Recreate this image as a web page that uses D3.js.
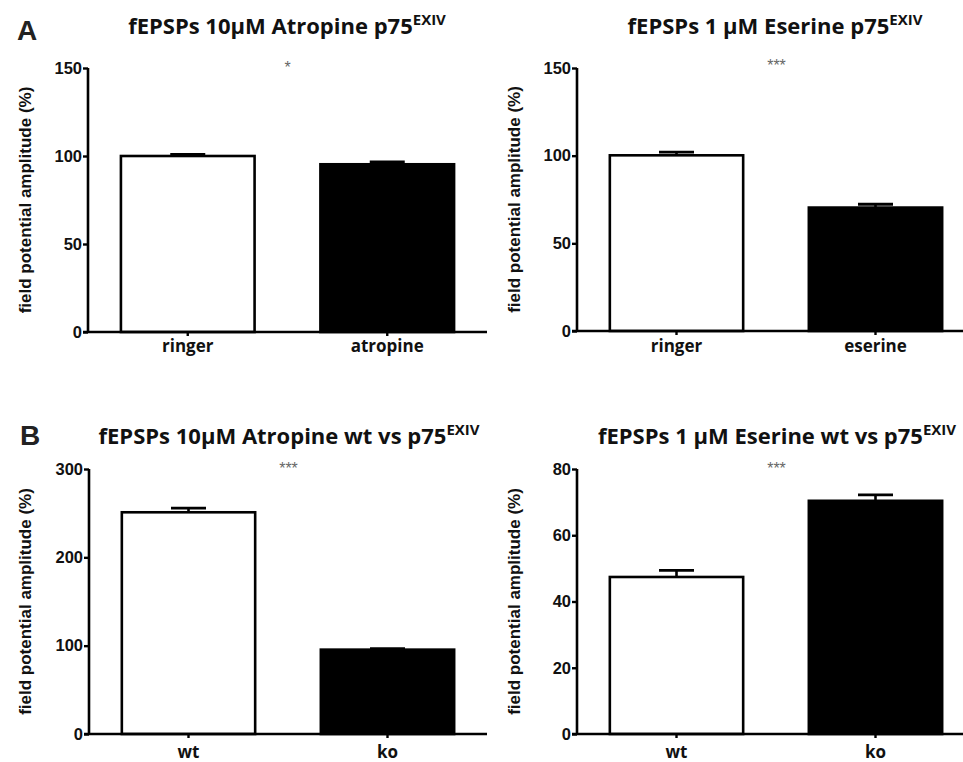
<!DOCTYPE html>
<html>
<head>
<meta charset="utf-8">
<script src="https://cdn.jsdelivr.net/npm/d3@7"></script>
<style>
  html, body { margin: 0; padding: 0; background: #fff; }
  svg { display: block; }
</style>
</head>
<body>
<svg id="chart" width="963" height="762"></svg>
<script>
// ---------------- DATA ----------------
const titlesMain = ["fEPSPs 10µM Atropine p75", "fEPSPs 1 µM Eserine p75", "fEPSPs 10µM Atropine wt vs p75", "fEPSPs 1 µM Eserine wt vs p75"];
const titleSup = "EXIV";
const panelLetters = ["A", "B"];
const yAxisLabel = "field potential amplitude (%)";

const categoriesA1 = ["ringer", "atropine"];
const valuesA1 = [100, 95.3];
const errorsA1 = [0.9, 1.3];
const ticksA1 = [0, 50, 100, 150];
const starsA1 = "*";

const categoriesA2 = ["ringer", "eserine"];
const valuesA2 = [100.2, 70.4];
const errorsA2 = [1.8, 1.9];
const ticksA2 = [0, 50, 100, 150];
const starsA2 = "***";

const categoriesB1 = ["wt", "ko"];
const valuesB1 = [251, 95.5];
const errorsB1 = [4.6, 1.1];
const ticksB1 = [0, 100, 200, 300];
const starsB1 = "***";

const categoriesB2 = ["wt", "ko"];
const valuesB2 = [47.4, 70.4];
const errorsB2 = [2.0, 1.8];
const ticksB2 = [0, 20, 40, 60, 80];
const starsB2 = "***";

const fills = ["#ffffff", "#000000"];

// ---------------- LAYOUT ----------------
const panels = [
  { title: titlesMain[0], cats: categoriesA1, vals: valuesA1, errs: errorsA1, ticks: ticksA1, stars: starsA1,
    x0: 88, x1: 487, yTop: 68, yBot: 332, titleX: 287, titleY: 34, starY: 73, labelX: 24, xLabelPad: 4 },
  { title: titlesMain[1], cats: categoriesA2, vals: valuesA2, errs: errorsA2, ticks: ticksA2, stars: starsA2,
    x0: 577, x1: 975, yTop: 68, yBot: 331, titleX: 775, titleY: 34, starY: 71, labelX: 513, xLabelPad: 5 },
  { title: titlesMain[2], cats: categoriesB1, vals: valuesB1, errs: errorsB1, ticks: ticksB1, stars: starsB1,
    x0: 89, x1: 487, yTop: 469, yBot: 734, titleX: 289, titleY: 444, starY: 474, labelX: 24, xLabelPad: 8 },
  { title: titlesMain[3], cats: categoriesB2, vals: valuesB2, errs: errorsB2, ticks: ticksB2, stars: starsB2,
    x0: 577, x1: 975, yTop: 469, yBot: 734, titleX: 777, titleY: 444, starY: 474, labelX: 513, xLabelPad: 8 }
];

const svg = d3.select("#chart");

// panel letters
svg.append("text").attr("x", 17).attr("y", 40).text(panelLetters[0])
  .attr("font-family", "Arial, 'Liberation Sans', sans-serif").attr("font-weight", "bold").attr("font-size", 28).attr("fill", "#222");
svg.append("text").attr("x", 20).attr("y", 445).text(panelLetters[1])
  .attr("font-family", "Arial, 'Liberation Sans', sans-serif").attr("font-weight", "bold").attr("font-size", 28).attr("fill", "#222");

panels.forEach(p => {
  const g = svg.append("g");
  const yMax = p.ticks[p.ticks.length - 1];
  const y = d3.scaleLinear().domain([0, yMax]).range([p.yBot, p.yTop]);
  const x = d3.scaleBand().domain(p.cats).range([p.x0, p.x1]).paddingInner(0.33).paddingOuter(0.165);

  // title
  const t = g.append("text").attr("x", p.titleX).attr("y", p.titleY).attr("text-anchor", "middle")
    .attr("font-family", "'Open Sans', sans-serif").attr("font-weight", "bold").attr("font-size", 22).attr("fill", "#111");
  t.append("tspan").text(p.title);
  t.append("tspan").attr("dy", -9).attr("font-size", 15).text(titleSup);

  // stars
  g.append("text").attr("x", p.x0 + 199.5).attr("y", p.starY).attr("text-anchor", "middle")
    .attr("font-family", "Arial, sans-serif").attr("font-size", 16).attr("fill", "#666").text(p.stars);

  // bars
  g.selectAll("rect.bar").data(p.cats).enter().append("rect")
    .attr("x", d => x(d)).attr("width", x.bandwidth())
    .attr("y", (d, i) => y(p.vals[i])).attr("height", (d, i) => y(0) - y(p.vals[i]))
    .attr("fill", (d, i) => fills[i]).attr("stroke", "#000").attr("stroke-width", 2.6);

  // error bars
  const cap = 35;
  p.cats.forEach((c, i) => {
    const cx = x(c) + x.bandwidth() / 2;
    g.append("line").attr("x1", cx).attr("x2", cx).attr("y1", y(p.vals[i])).attr("y2", y(p.vals[i] + p.errs[i]))
      .attr("stroke", "#000").attr("stroke-width", 2.6);
    g.append("line").attr("x1", cx - cap / 2).attr("x2", cx + cap / 2).attr("y1", y(p.vals[i] + p.errs[i])).attr("y2", y(p.vals[i] + p.errs[i]))
      .attr("stroke", "#000").attr("stroke-width", 2.8);
  });

  // y axis
  const ya = g.append("g").attr("transform", `translate(${p.x0},0)`)
    .call(d3.axisLeft(y).tickValues(p.ticks).tickSize(5).tickSizeOuter(0).tickPadding(1).tickFormat(d3.format("d")));
  ya.select(".domain").attr("stroke-width", 2.6).attr("d", `M0,${p.yTop}V${p.yBot}`);
  ya.selectAll(".tick line").attr("stroke-width", 2.4);
  ya.selectAll(".tick text").attr("font-family", "Arial, 'Liberation Sans', sans-serif").attr("font-weight", "bold")
    .attr("font-size", 16.5).attr("fill", "#111");

  // x axis
  const xa = g.append("g").attr("transform", `translate(0,${p.yBot})`)
    .call(d3.axisBottom(x).tickSize(4).tickSizeOuter(0).tickPadding(p.xLabelPad));
  xa.select(".domain").attr("stroke-width", 2.6).attr("d", `M${p.x0 - 5},0H${p.x1}`);
  xa.selectAll(".tick line").attr("stroke-width", 2.4);
  xa.selectAll(".tick text").attr("font-family", "'Open Sans', sans-serif").attr("font-weight", "bold")
    .attr("font-size", 17).attr("fill", "#111");

  // y label
  g.append("text").attr("transform", `translate(${p.labelX + 7},${(p.yTop + p.yBot) / 2}) rotate(-90)`)
    .attr("text-anchor", "middle").attr("font-family", "Arial, 'Liberation Sans', sans-serif").attr("font-weight", "bold")
    .attr("font-size", 17).attr("fill", "#111").text(yAxisLabel);
});
</script>
</body>
</html>
